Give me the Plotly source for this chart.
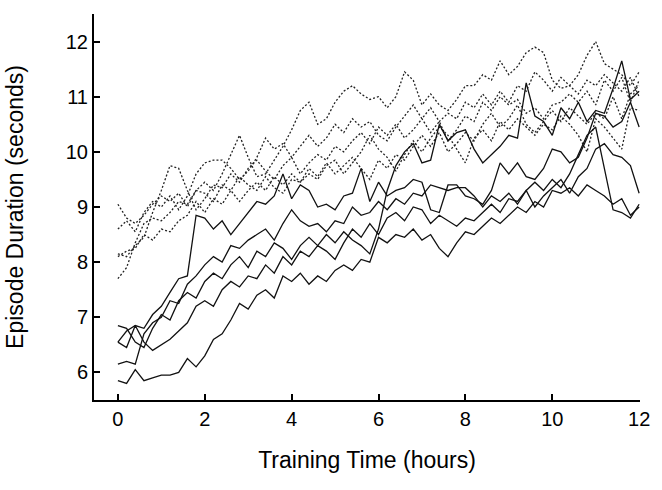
import plotly.graph_objects as go

hours = [round(0.2 * i, 1) for i in range(61)]

solid_1 = [6.85, 6.8, 6.55, 6.45, 6.8, 7.05, 6.95, 7.3, 7.45, 7.35,
           7.65, 7.8, 7.7, 7.95, 8.1, 7.9, 8.2, 8.1, 8.35, 8.25,
           8.05, 8.3, 8.45, 8.3, 8.5, 8.35, 8.55, 8.4, 8.3, 8.15,
           8.6, 9.3, 9.75, 10.0, 10.15, 9.8, 9.85, 10.5, 10.2, 10.35,
           10.4, 10.05, 9.8, 9.95, 10.1, 10.3, 10.25, 11.25, 10.65, 10.55,
           10.3, 10.8, 10.6, 10.9, 10.55, 10.75, 10.7, 11.15, 11.65, 10.95,
           11.1]
solid_2 = [6.55, 6.75, 6.85, 6.8, 7.05, 7.2, 7.45, 7.7, 7.75, 8.85,
           8.8, 8.6, 8.75, 8.5, 8.7, 8.9, 9.1, 9.05, 9.2, 9.6,
           9.15, 9.4, 9.3, 9.0, 9.05, 8.95, 9.2, 9.25, 9.7, 9.1,
           9.45, 9.2, 9.3, 9.35, 9.5, 9.45, 8.95, 8.9, 9.4, 9.4,
           9.2, 9.15, 9.05, 9.3, 9.8, 9.6, 9.8, 9.55, 9.5, 9.7,
           10.05, 10.0, 9.8, 9.9, 10.25, 10.7, 10.65, 10.45, 10.55, 10.9,
           10.45]
solid_3 = [6.15, 6.2, 6.15, 6.7, 6.9, 7.0, 7.3, 7.25, 7.6, 7.75,
           7.95, 8.1, 8.0, 8.3, 8.25, 8.4, 8.5, 8.6, 8.4, 8.7,
           8.95, 8.75, 8.65, 8.7, 8.55, 8.75, 8.7, 9.0, 8.85, 8.9,
           9.1, 8.95, 9.15, 9.05, 9.25, 9.2, 9.4, 9.35, 9.3, 9.35,
           9.35, 9.2, 9.0, 9.2, 9.1, 9.25, 9.05, 9.3, 9.45, 9.3,
           9.5, 9.35, 9.6, 9.95, 10.3, 10.45, 9.7, 8.95, 8.9, 8.8,
           9.05]
solid_4 = [6.55, 6.45, 6.85, 6.55, 6.4, 6.5, 6.6, 6.75, 6.9, 7.2,
           7.3, 7.2, 7.5, 7.65, 7.55, 7.75, 7.7, 7.95, 7.8, 8.1,
           7.95, 8.2, 8.1, 8.3, 8.2, 8.05, 8.35, 8.6, 8.45, 8.7,
           8.5, 8.8, 8.9, 8.75, 9.0, 8.95, 8.7, 8.85, 8.75, 8.65,
           8.8, 8.75, 8.9, 9.05, 8.9, 9.15, 9.1, 9.3, 9.0, 9.2,
           9.35, 9.5, 9.25, 9.55, 9.7, 10.05, 10.15, 9.95, 9.9, 9.75,
           9.25]
solid_5 = [5.85, 5.8, 6.05, 5.85, 5.9, 5.95, 5.95, 6.0, 6.25, 6.1,
           6.3, 6.6, 6.7, 6.95, 7.25, 7.15, 7.4, 7.5, 7.35, 7.75,
           7.65, 7.8, 7.6, 7.75, 7.65, 7.85, 7.95, 7.85, 8.05, 8.0,
           8.45, 8.35, 8.5, 8.45, 8.6, 8.4, 8.5, 8.25, 8.1, 8.35,
           8.55, 8.5, 8.65, 8.8, 8.7, 8.85, 9.0, 8.9, 9.1, 9.0,
           9.3, 9.25, 9.35, 9.2, 9.4, 9.3, 9.2, 9.05, 9.15, 8.85,
           9.0]

dotted_1 = [9.05, 8.8, 8.7, 8.85, 9.05, 9.2, 9.1, 9.25, 9.0, 9.3,
            9.45, 9.3, 9.6, 9.95, 10.3, 9.9, 9.55, 9.6, 9.85, 10.1,
            10.4, 10.75, 10.9, 10.5, 10.6, 10.9, 11.1, 11.2, 11.05, 10.95,
            11.0, 10.8, 11.0, 11.45, 11.3, 10.85, 11.05, 10.85, 10.75, 10.95,
            11.2, 11.2, 11.4, 11.3, 11.65, 11.4, 11.55, 11.8, 11.9, 11.8,
            11.3, 11.15, 11.2, 11.4, 11.75, 12.0, 11.6, 11.5, 11.4, 11.2,
            11.45]
dotted_2 = [8.15, 8.1, 8.3, 8.45, 8.9, 9.3, 9.75, 9.7, 9.3, 8.95,
            9.15, 9.4, 9.35, 9.6, 9.45, 9.7, 9.85, 9.65, 9.5, 9.75,
            9.9, 9.6, 9.8, 9.95, 9.85, 10.1, 10.0, 10.2, 10.35, 10.15,
            10.45, 10.3, 10.5, 10.25, 10.4, 10.6, 10.35, 10.55, 10.2, 10.4,
            10.65, 10.55, 10.9, 10.75, 11.0, 10.85, 10.95, 10.7, 10.8, 10.6,
            10.85, 10.9, 11.05, 10.9, 11.1, 10.85, 11.3, 11.1, 11.35, 10.9,
            11.3]
dotted_3 = [7.7, 7.9, 8.35, 8.7, 8.8, 8.75, 8.9, 9.1, 9.05, 9.3,
            9.25, 9.1, 9.4, 9.3, 9.55, 9.4, 9.3, 9.55, 9.35, 9.25,
            9.5, 9.45, 9.7, 9.55, 9.8, 9.6, 9.75, 9.9, 9.7, 9.5,
            9.85, 9.7, 9.95, 9.85, 10.1, 10.3, 10.1, 10.35, 10.0, 10.15,
            10.35, 10.2, 10.5, 10.7, 10.45, 10.6, 10.85, 10.5, 10.35, 10.55,
            10.75, 10.55, 10.8, 10.65, 10.5, 10.7, 10.6, 11.0, 10.6, 11.05,
            11.2]
dotted_4 = [8.1, 8.2, 8.25, 8.5, 8.4, 8.6, 8.55, 8.75, 8.85, 9.1,
            8.9, 9.15, 9.05, 9.3, 9.1, 9.3, 9.45, 9.3, 9.55, 9.4,
            9.6, 9.45, 9.6, 9.5, 9.75, 9.85, 9.6, 9.8, 10.0, 10.3,
            10.05, 9.9, 9.65, 9.95, 10.2, 10.0, 10.25, 10.45, 10.3, 10.05,
            9.8, 10.25, 10.4, 10.2, 10.55, 10.4, 10.6, 10.45, 10.3, 10.5,
            10.4, 10.65, 10.5, 10.3, 10.0, 10.6, 10.45, 10.25, 10.05, 10.8,
            10.75]
dotted_5 = [8.6, 8.75, 8.55, 8.9, 9.1, 9.0, 9.2, 8.95, 9.2, 9.6,
            9.8, 9.85, 9.85, 9.7, 9.5, 9.65, 9.9, 10.25, 10.05, 10.15,
            9.9, 10.1, 10.3, 10.1, 10.25, 10.5, 10.35, 10.6, 10.45, 10.55,
            10.3, 10.2, 10.45, 10.65, 10.85, 10.6, 10.8, 10.55, 10.7, 10.6,
            10.9, 10.8, 11.05, 10.85, 11.1, 10.9, 11.2, 11.1, 11.45, 11.3,
            11.1, 11.35, 11.2, 11.05, 11.3, 11.2, 11.4, 11.25, 11.1, 11.35,
            11.0]

solid_series = [solid_1, solid_2, solid_3, solid_4, solid_5]
dotted_series = [dotted_1, dotted_2, dotted_3, dotted_4, dotted_5]

x_ticks = [0, 2, 4, 6, 8, 10, 12]
y_ticks = [6, 7, 8, 9, 10, 11, 12]

fig = go.Figure()
for ys in dotted_series:
    fig.add_trace(go.Scatter(x=hours, y=ys, mode="lines",
                             line=dict(color="#222222", width=1.3, dash="2px,2px"),
                             showlegend=False, hoverinfo="skip"))
for ys in solid_series:
    fig.add_trace(go.Scatter(x=hours, y=ys, mode="lines",
                             line=dict(color="#111111", width=1.3),
                             showlegend=False, hoverinfo="skip"))

fam = "Liberation Sans, Arial, sans-serif"
fig.update_layout(
    width=662, height=490,
    margin=dict(l=94, r=20, t=14, b=90),
    paper_bgcolor="white", plot_bgcolor="white",
    font=dict(family=fam, size=20, color="black"),
)
fig.update_xaxes(
    range=[-0.55, 12.02], tickvals=x_ticks, ticktext=[str(v) for v in x_ticks],
    showgrid=False, zeroline=False, showline=True, linecolor="black", linewidth=2,
    ticks="inside", ticklen=6, tickwidth=1.5, tickcolor="black",
    title=dict(text="Training Time (hours)", font=dict(family=fam, size=23), standoff=23),
    tickfont=dict(family=fam, size=20),
)
fig.update_yaxes(
    range=[5.5, 12.5], tickvals=y_ticks, ticktext=[str(v) for v in y_ticks],
    showgrid=False, zeroline=False, showline=True, linecolor="black", linewidth=2,
    ticks="inside", ticklen=6, tickwidth=1.5, tickcolor="black",
    title=dict(text="Episode Duration (seconds)", font=dict(family=fam, size=23), standoff=36),
    tickfont=dict(family=fam, size=20),
)

fig.write_html("out.html")
